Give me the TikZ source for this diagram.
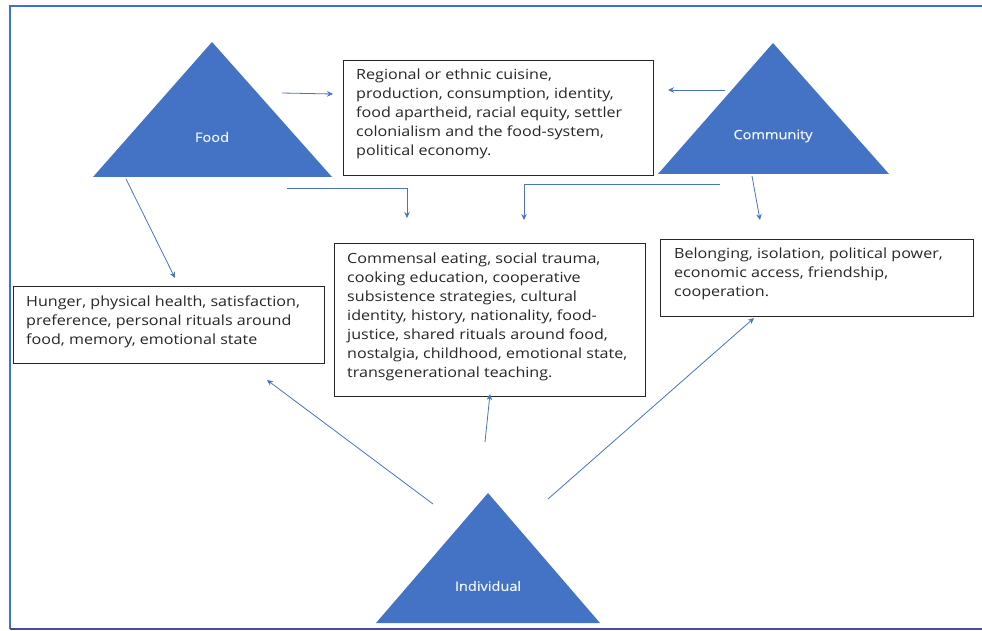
\documentclass[tikz,border=0pt]{standalone}
\usepackage{fontspec}
\setmainfont[FakeStretch=1.15]{Open Sans}
\newfontfamily\labelfont[FakeStretch=1.12,FakeBold=0.6]{Open Sans}
\usetikzlibrary{arrows.meta}
\definecolor{triblue}{HTML}{4472C4}
\definecolor{lineblue}{HTML}{4A72C0}
\definecolor{frameblue}{HTML}{3D6FD6}
\definecolor{txtgray}{HTML}{262626}
\begin{document}
\begin{tikzpicture}[x=1pt,y=-1pt,
  tri/.style={fill=triblue,draw=none},
  trilabel/.style={text=white!92!triblue,font=\labelfont\fontsize{13}{15}\selectfont,inner sep=0pt},
  box/.style={draw=black!85,line width=0.9pt,rectangle,anchor=north west,inner sep=0pt},
  txt/.style={anchor=north west,align=left,inner sep=0pt,text=txtgray,font=\fontsize{14}{19}\selectfont},
  conn/.style={draw=lineblue,line width=0.8pt,-{Stealth[length=6pt,width=5.5pt]}}]
\useasboundingbox (0,0) rectangle (982,631);
% frame
\draw[frameblue,line width=1.2pt] (982,6) -- (10,6) -- (10,629);
\draw[black!60!blue!70,line width=1.2pt] (10,629) -- (982,629);
% triangles
\fill[tri] (212,42) -- (332,177) -- (93,177) -- cycle;
\node[trilabel] (food) at (212,137) {Food};
\fill[tri] (773,43) -- (889,174) -- (658,174) -- cycle;
\node[trilabel] (community) at (773,136) {Community};
\fill[tri] (488,493) -- (600,623) -- (376,623) -- cycle;
\node[trilabel] (individual) at (488,586) {Individual};
% boxes
\node[box,minimum width=310pt,minimum height=115pt] (b1) at (343,60) {};
\node[txt] (t1) at (356,69) {Regional or ethnic cuisine,\\production, consumption, identity,\\food apartheid, racial equity, settler\\colonialism and the food-system,\\political economy.};
\node[box,minimum width=311pt,minimum height=77pt] (b2) at (13,286) {};
\node[txt] (t2) at (26,296) {Hunger, physical health, satisfaction,\\preference, personal rituals around\\food, memory, emotional state};
\node[box,minimum width=311pt,minimum height=153pt] (b3) at (334,243) {};
\node[txt] (t3) at (347,253) {Commensal eating, social trauma,\\cooking education, cooperative\\subsistence strategies, cultural\\identity, history, nationality, food-\\justice, shared rituals around food,\\nostalgia, childhood, emotional state,\\transgenerational teaching.};
\node[box,minimum width=313pt,minimum height=77pt] (b4) at (660,239) {};
\node[txt] (t4) at (674,248) {Belonging, isolation, political power,\\economic access, friendship,\\cooperation.};
% connector endpoints
\coordinate (fA) at (282,93);  \coordinate (b1L) at (333,94);
\coordinate (cA) at (725,90);  \coordinate (b1R) at (668,90);
\coordinate (fB) at (287,188); \coordinate (b3a) at (407,218);
\coordinate (cB) at (720,184); \coordinate (b3b) at (524,220);
\coordinate (cC) at (752,176); \coordinate (b4a) at (760,220);
\coordinate (fC) at (126,179); \coordinate (b2a) at (175,278);
\coordinate (iA) at (433,504); \coordinate (b2b) at (267,380);
\coordinate (iB) at (485,442); \coordinate (b3c) at (490,394);
\coordinate (iC) at (548,499); \coordinate (b4b) at (754,318);
% connectors
\draw[conn] (fA) -- (b1L);
\draw[conn] (cA) -- (b1R);
\draw[conn] (fB) -| (b3a);
\draw[conn] (cB) -| (b3b);
\draw[conn] (cC) -- (b4a);
\draw[conn] (fC) -- (b2a);
\draw[conn] (iA) -- (b2b);
\draw[conn] (iB) -- (b3c);
\draw[conn] (iC) -- (b4b);
\end{tikzpicture}
\end{document}
